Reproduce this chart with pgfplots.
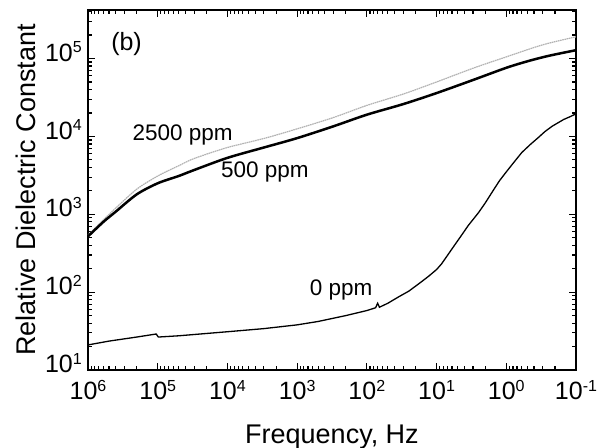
\documentclass[border=0pt]{standalone}
\usepackage{fontspec}
\setmainfont{Liberation Sans}
\usepackage{pgfplots}
\pgfplotsset{compat=1.18}
\newcommand{\pw}[1]{\raisebox{0.62ex}{\fontsize{16bp}{16bp}\selectfont #1}}

\begin{document}
\begin{tikzpicture}
\useasboundingbox (-88bp,-78bp) rectangle (518bp,370bp);
\begin{axis}[
  at={(0,0)}, anchor=south west,
  scale only axis, width=488bp, height=360bp,
  xmode=log, ymode=log, log basis x=10, log basis y=10,
  x dir=reverse,
  xmin=0.1, xmax=1e6, ymin=10, ymax=4.2e5,
  axis line style={line width=1.8bp},
  every tick/.style={black, line width=1.2bp},
  major tick length=7bp, minor tick length=4bp,
  tick align=inside,
  xticklabel={10\pw{\pgfmathparse{int(round(\tick))}\pgfmathresult}},
  yticklabel={10\pw{\pgfmathparse{int(round(\tick))}\pgfmathresult}},
  xticklabel style={font=\fontsize{25bp}{28bp}\selectfont, anchor=base, yshift=-30bp, inner sep=0pt},
  yticklabel style={font=\fontsize{25bp}{28bp}\selectfont, anchor=mid east, xshift=-6bp, inner sep=0pt},
  xlabel={Frequency, Hz},
  ylabel={Relative Dielectric Constant},
  xlabel style={at={(axis description cs:0.5,-0.186)}, anchor=center, font=\fontsize{27bp}{30bp}\selectfont},
  ylabel style={at={(axis description cs:-0.127,0.5)}, anchor=center, font=\fontsize{27bp}{30bp}\selectfont},
]
% 2500 ppm
\addplot[gray!60, line width=1.2bp, dash pattern=on 1.6bp off 0.6bp, smooth, tension=0.5] coordinates {
(1e6,540) (6e5,850) (4e5,1200) (2e5,2100) (1e5,3100) (5e4,4200) (3e4,5200) (1e4,7200)
(3e3,9400) (1e3,12500) (3e2,17500) (1e2,25000) (3e1,35000) (1e1,50000) (3,75000)
(1,105000) (0.3,150000) (0.1,190000)
};
% 500 ppm
\addplot[black, line width=2.5bp, smooth, tension=0.5] coordinates {
(1e6,520) (6e5,800) (4e5,1080) (2e5,1800) (1e5,2500) (5e4,3100) (3e4,3700) (1e4,5300)
(3e3,7200) (1e3,9500) (3e2,13500) (1e2,19000) (3e1,26000) (1e1,36000) (3,53000)
(1,76000) (0.5,92000) (0.25,108000) (0.1,128000)
};
% 0 ppm
\addplot[black, line width=1.3bp] coordinates {
(1e6,21) (5e5,23.5) (2e5,26.5) (1.05e5,29) (0.98e5,26.5) (5e4,27.5) (1e4,31)
(3e3,34) (1e3,38) (5e2,42) (2e2,50) (1e2,58) (75,63) (70,72) (66,64) (50,72)
(35,87) (25,103) (17,133) (13,160) (10,195) (8.5,230) (7.5,270) (6,360) (4.5,520)
(3.5,720) (2.5,1050) (2,1400) (1.5,2100) (1.25,2700) (1,3500) (0.8,4500)
(0.6,6200) (0.45,7900) (0.35,9600) (0.28,11500) (0.22,13500) (0.18,15000)
(0.15,16500) (0.12,18000) (0.1,19500)
};
\node[font=\fontsize{25bp}{28bp}\selectfont] at (axis cs:2.8e5,1.55e5) {(b)};
\node[font=\fontsize{22.5bp}{26bp}\selectfont] at (axis cs:4.4e4,10300) {2500 ppm};
\node[font=\fontsize{22.5bp}{26bp}\selectfont] at (axis cs:2900,3500) {500 ppm};
\node[font=\fontsize{22.5bp}{26bp}\selectfont] at (axis cs:234,106) {0 ppm};
\end{axis}
\end{tikzpicture}
\end{document}
